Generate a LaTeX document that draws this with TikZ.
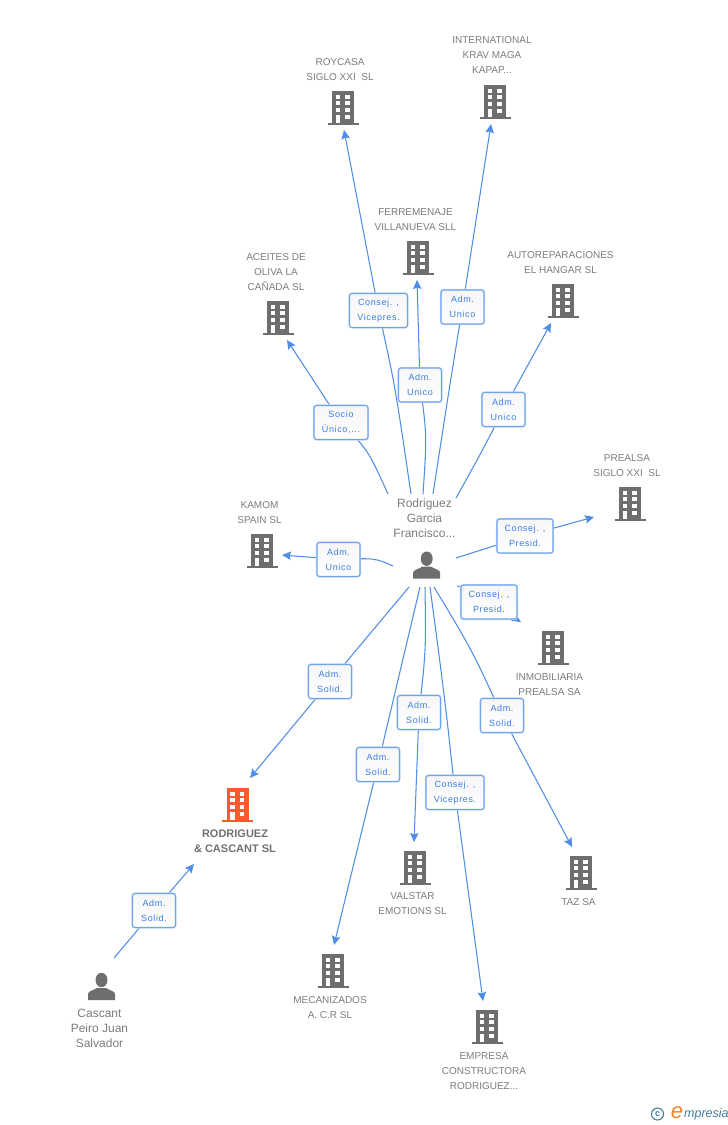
\documentclass[tikz,border=0pt]{standalone}
\usepackage{fontspec}
\setmainfont{Liberation Sans}
\newfontfamily\lblfont[LetterSpace=7]{Liberation Sans}
\usetikzlibrary{arrows.meta,backgrounds}
\definecolor{linkblue}{HTML}{4F8DE6}
\definecolor{boxblue}{HTML}{6FA3EA}
\definecolor{halo}{HTML}{CFE0F8}
\definecolor{labtxt}{HTML}{3A7DE0}
\definecolor{grayico}{HTML}{6E6E6E}
\definecolor{graytxt}{HTML}{7C7C7C}
\definecolor{orangeico}{HTML}{FF5A2B}
\definecolor{teal}{HTML}{3E7F98}
\definecolor{logoor}{HTML}{F5851F}
\tikzset{
  x=1pt,y=-1pt,
  rel/.style={draw=boxblue,line width=1.1pt,rounded corners=2.6pt,top color=white!93!gray,bottom color=white,
    preaction={draw=halo,line width=2.4pt},
    font=\fontsize{9}{15}\selectfont\lblfont,text=labtxt,align=center,inner sep=0pt},
  conn/.style={draw=linkblue,line width=1.05pt},
  arr/.style={conn,-{Stealth[length=9pt,width=8.5pt,inset=1.5pt]}},
  caption/.style={font=\fontsize{10}{15}\selectfont,text=graytxt,align=center,inner sep=0pt},
  person/.style={font=\fontsize{12}{15}\selectfont,text=graytxt,align=center,inner sep=0pt},
  main/.style={font=\fontsize{11}{15}\selectfont\bfseries,text=graytxt!90!black,align=center,inner sep=0pt},
}
\newcommand{\bldg}[3]{%
  \begin{scope}[shift={(#1,#2)}]
    \fill[#3] (-11,0) rectangle (11,32);
    \fill[#3] (-15.5,31.5) rectangle (15.5,34);
    \foreach \yy in {3.7,10.4,17,23.7}{
      \fill[white] (-7.5,\yy) rectangle (-3,\yy+4);
      \fill[white] (2,\yy) rectangle (6.5,\yy+4);
    }
    \fill[white] (-7.5,23.7) rectangle (-3,32);
  \end{scope}}
\newcommand{\persona}[2]{%
  \begin{scope}[shift={(#1,#2)}]
    \fill[grayico] (0,7) ellipse (6 and 7.2);
    \fill[grayico] (-13.5,27) -- (-13.5,21) .. controls (-13.5,18) and (-8,17.5) .. (-4.5,15) -- (4.5,15)
      .. controls (8,17.5) and (13.5,18) .. (13.5,21) -- (13.5,27) -- cycle;
  \end{scope}}
\begin{document}
\begin{tikzpicture}
\useasboundingbox (0,0) rectangle (728,1125);
% icons
\bldg{343}{91}{grayico}
\bldg{495}{85}{grayico}
\bldg{418}{241}{grayico}
\bldg{563}{284}{grayico}
\bldg{278}{301}{grayico}
\bldg{630}{487}{grayico}
\bldg{262}{534}{grayico}
\bldg{553}{631}{grayico}
\bldg{237.5}{788}{orangeico}
\bldg{415}{851}{grayico}
\bldg{581}{856}{grayico}
\bldg{333}{954}{grayico}
\bldg{487}{1010}{grayico}
\persona{426.7}{551.7}
\persona{101.5}{973}
% captions
\node[caption] (nroy) at (340,69.5) {ROYCASA\\SIGLO XXI\ \ SL};
\node[caption] (nkrav) at (492,55.5) {INTERNATIONAL\\KRAV MAGA\\KAPAP...};
\node[caption] (nfer) at (415.5,219.5) {FERREMENAJE\\VILLANUEVA SLL};
\node[caption] (naut) at (560.5,262.5) {AUTOREPARACIONES\\EL HANGAR SL};
\node[caption] (nace) at (276,272) {ACEITES DE\\OLIVA LA\\CAÑADA SL};
\node[caption] (npre) at (627,465.5) {PREALSA\\SIGLO XXI\ \ SL};
\node[caption] (nkam) at (259.5,512.5) {KAMOM\\SPAIN SL};
\node[caption] (nino) at (549.5,684.5) {INMOBILIARIA\\PREALSA SA};
\node[main] (nrod) at (235,841) {RODRIGUEZ\\\&\ CASCANT SL};
\node[caption] (nval) at (412.5,904) {VALSTAR\\EMOTIONS SL};
\node[caption] (ntaz) at (578.5,902) {TAZ SA};
\node[caption] (nmec) at (330,1007.5) {MECANIZADOS\\A. C.R SL};
\node[caption] (nemp) at (484,1071) {EMPRESA\\CONSTRUCTORA\\RODRIGUEZ...};
\node[person] (nrgf) at (424.5,518) {Rodriguez\\Garcia\\Francisco...};
\node[person] (ncas) at (99.5,1028.5) {Cascant\\Peiro Juan\\Salvador};
% relation boxes
\node[rel,minimum width=58pt,minimum height=34pt] (lroy) at (378.5,310.5) {Consej. ,\\Vicepres.};
\node[rel,minimum width=43pt,minimum height=34pt] (lkrav) at (462.5,307) {Adm.\\Unico};
\node[rel,minimum width=43pt,minimum height=34pt] (lfer) at (420,385) {Adm.\\Unico};
\node[rel,minimum width=43pt,minimum height=34pt] (laut) at (503.5,409.5) {Adm.\\Unico};
\node[rel,minimum width=54pt,minimum height=34pt] (lace) at (341,422.5) {Socio\\Único,...};
\node[rel,minimum width=56pt,minimum height=34pt] (lpre) at (525,536) {Consej. ,\\Presid.};
\node[rel,minimum width=43pt,minimum height=34pt] (lkam) at (338.5,559.5) {Adm.\\Unico};
\node[rel,minimum width=56pt,minimum height=34pt] (lino) at (489,602) {Consej. ,\\Presid.};
\node[rel,minimum width=43pt,minimum height=34pt] (lrod) at (330,681.5) {Adm.\\Solid.};
\node[rel,minimum width=43pt,minimum height=34pt] (lmec) at (378,764.5) {Adm.\\Solid.};
\node[rel,minimum width=43pt,minimum height=34pt] (lval) at (419,712.5) {Adm.\\Solid.};
\node[rel,minimum width=58pt,minimum height=34pt] (lemp) at (455,792.5) {Consej. ,\\Vicepres.};
\node[rel,minimum width=43pt,minimum height=34pt] (ltaz) at (502,715.5) {Adm.\\Solid.};
\node[rel,minimum width=43pt,minimum height=34pt] (lcas) at (154,910.5) {Adm.\\Solid.};
% connector ends
\coordinate (sroy) at (411,494); \coordinate (troy) at (344,130);
\coordinate (skrav) at (433,494); \coordinate (tkrav) at (491,124);
\coordinate (sfer) at (423,494); \coordinate (tfer) at (417,280);
\coordinate (saut) at (456,498); \coordinate (taut) at (551,323);
\coordinate (sace) at (388,494); \coordinate (tace) at (287,340);
\coordinate (spre) at (456,558); \coordinate (tpre) at (594,517);
\coordinate (skam) at (393,566); \coordinate (tkam) at (282,555);
\coordinate (sino) at (457,586); \coordinate (tino) at (521,622);
\coordinate (srod) at (409,587); \coordinate (trod) at (250,778);
\coordinate (smec) at (420,587); \coordinate (tmec) at (334,945);
\coordinate (sval) at (425,587); \coordinate (tval) at (414,842);
\coordinate (semp) at (430,587); \coordinate (temp) at (483,1001);
\coordinate (staz) at (434,587); \coordinate (ttaz) at (572,847);
\coordinate (scas) at (114,958); \coordinate (tcas) at (194,864);
\begin{pgfonlayer}{background}
\draw[arr] (sroy) .. controls (395,385) .. (lroy.center) -- (troy);
\draw[arr] (skrav) .. controls (449,390) .. (lkrav.center) -- (tkrav);
\draw[arr] (sfer) .. controls (427,435) .. (lfer.center) -- (tfer);
\draw[arr] (saut) .. controls (480,455) .. (laut.center) -- (taut);
\draw[arr] (sace) .. controls (368,450) .. (lace.center) -- (tace);
\draw[arr] (spre) -- (lpre.center) -- (tpre);
\draw[arr] (skam) .. controls (375,558) .. (lkam.center) -- (tkam);
\draw[arr] (sino) .. controls (470,588) .. (lino.center) -- (tino);
\draw[arr] (srod) -- (lrod.center) -- (trod);
\draw[arr] (smec) -- (lmec.center) -- (tmec);
\draw[arr] (sval) .. controls (426,650) .. (lval.center) -- (tval);
\draw[arr] (semp) .. controls (445,700) .. (lemp.center) -- (temp);
\draw[arr] (staz) .. controls (472,650) .. (ltaz.center) -- (ttaz);
\draw[arr] (scas) -- (lcas.center) -- (tcas);
\end{pgfonlayer}
% logo
\node[circle,draw=teal,line width=1.1pt,inner sep=0pt,minimum size=12pt,text=teal,font=\fontsize{9}{9}\selectfont\bfseries] (lgc) at (657.5,1114) {c};
\node[inner sep=0pt,text=logoor,font=\fontsize{22}{22}\selectfont\itshape] (lge) at (677,1112.5) {e};
\node[inner sep=0pt,anchor=west,text=teal,font=\fontsize{12.5}{13}\selectfont\itshape] (lgm) at (684,1114) {mpresia};
\end{tikzpicture}
\end{document}
